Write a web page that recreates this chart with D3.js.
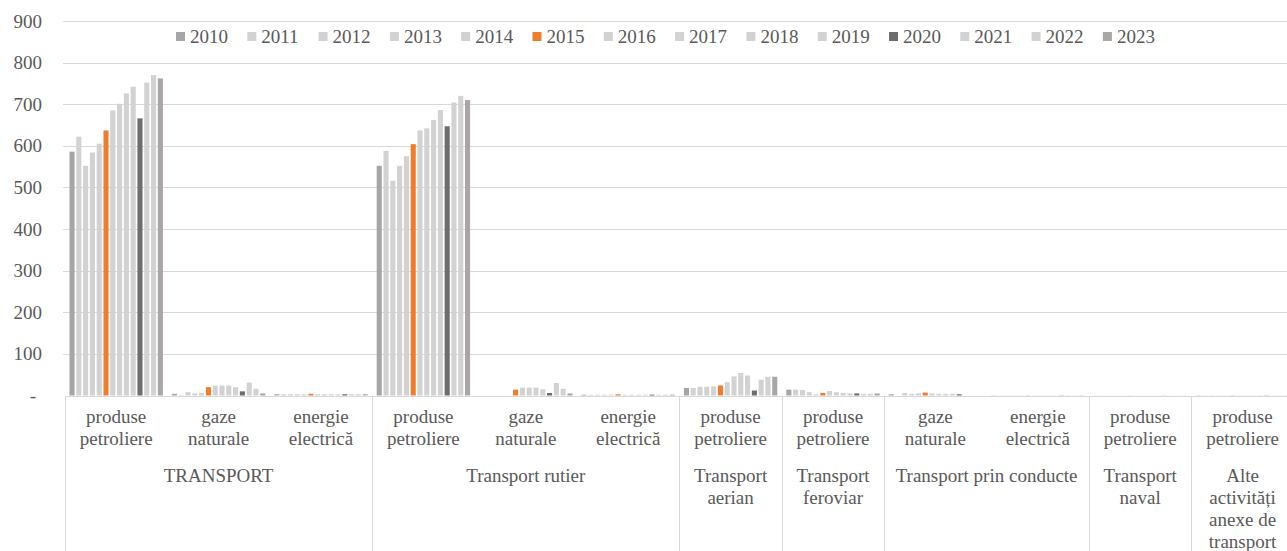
<!DOCTYPE html>
<html>
<head>
<meta charset="utf-8">
<script src="https://cdn.jsdelivr.net/npm/d3@7"></script>
<style>
  body { margin: 0; background: #fff; }
  svg text { fill: #595959; }
</style>
</head>
<body>
<svg id="chart" width="1287" height="551"></svg>
<script>
const years = ["2010", "2011", "2012", "2013", "2014", "2015", "2016", "2017", "2018", "2019", "2020", "2021", "2022", "2023"];

const subLabels = [
  ["produse", "petroliere"], ["gaze", "naturale"], ["energie", "electrică"],
  ["produse", "petroliere"], ["gaze", "naturale"], ["energie", "electrică"],
  ["produse", "petroliere"],
  ["produse", "petroliere"],
  ["gaze", "naturale"], ["energie", "electrică"],
  ["produse", "petroliere"],
  ["produse", "petroliere"]
];

const groupNames = [
  ["TRANSPORT"], ["Transport rutier"], ["Transport", "aerian"], ["Transport", "feroviar"],
  ["Transport prin conducte"], ["Transport", "naval"], ["Alte", "activități", "anexe de", "transport"]
];
const groupSizes = [3, 3, 1, 1, 2, 1, 1];

// one row per category, one value per year (2010..2023)
const transportPetrol = [586, 622, 552, 584, 605, 637, 685, 701, 726, 742, 666, 752, 770, 762];
const transportGaze = [4, 1, 8, 5, 6, 20, 24, 24, 24, 20, 10, 31, 16, 5];
const transportEnergie = [3, 3, 3, 3, 3, 4, 3, 3, 3, 3, 3, 3, 3, 3];
const rutierPetrol = [552, 588, 516, 552, 575, 604, 637, 642, 662, 686, 647, 704, 720, 710];
const rutierGaze = [0, 0, 0, 0, 0, 14, 19, 19, 19, 15, 6, 30, 16, 5];
const rutierEnergie = [2, 2, 2, 2, 2, 3, 2, 2, 2, 2, 2, 2, 2, 2];
const aerianPetrol = [18, 18, 21, 21, 22, 24, 32, 46, 54, 48, 12, 38, 45, 45];
const feroviarPetrol = [14, 14, 13, 8, 3, 6, 11, 8, 6, 5, 5, 4, 4, 5];
const conducteGaze = [3, 0, 6, 4, 5, 7, 5, 4, 4, 4, 3, 0, 0, 0];
const conducteEnergie = [0.5, 0.5, 0.5, 0.5, 0.5, 0.5, 0.5, 0.5, 0.5, 0.5, 0.5, 0.5, 0.5, 0.5];
const navalPetrol = [0.3, 0.3, 0.3, 0.3, 0.3, 0.3, 0.3, 0.3, 0.3, 0.3, 0.3, 0.3, 0.3, 0.3];
const altePetrol = [0.5, 0.5, 0.5, 0.5, 0.5, 0.5, 0.5, 0.5, 0.5, 0.5, 0.5, 0.5, 0.5, 0.5];

const values = [transportPetrol, transportGaze, transportEnergie, rutierPetrol, rutierGaze, rutierEnergie,
  aerianPetrol, feroviarPetrol, conducteGaze, conducteEnergie, navalPetrol, altePetrol];

const yTicks = [0, 100, 200, 300, 400, 500, 600, 700, 800, 900];

const colors = {
  "2010": "#a6a6a6", "2015": "#f07d2c", "2020": "#6e6c6c", "2023": "#aaa6a6"
};
const light = "#d2d2d2";
const colorOf = y => colors[y] || light;

const svg = d3.select("#chart");
const left = 65, catW = 102.4, fs = 19;
// serif look of the original; falls back to whatever serif face exists
const serif = "Tinos, 'Liberation Serif', 'Noto Serif', 'DejaVu Serif', FreeSerif, 'Times New Roman', Times, serif";

const x0 = d3.scaleBand()
  .domain(d3.range(values.length))
  .range([left, left + catW * values.length]);

const x1 = d3.scaleBand()
  .domain(years)
  .range([4.5, catW - 4.5])
  .paddingInner(0.25);

const y = d3.scaleLinear().domain([0, 900]).range([395.5, 21]);

// gridlines
svg.append("g")
  .selectAll("line")
  .data(yTicks.slice(1))
  .join("line")
  .attr("x1", left - 2).attr("x2", 1287)
  .attr("y1", d => Math.round(y(d)) + 0.5).attr("y2", d => Math.round(y(d)) + 0.5)
  .attr("stroke", "#d9d9d9");

// y labels
svg.append("g")
  .selectAll("text")
  .data(yTicks)
  .join("text")
  .attr("x", d => d === 0 ? 36 : 42)
  .attr("y", d => y(d) + 6.5)
  .attr("text-anchor", "end")
  .style("font-family", serif)
  .attr("font-size", fs)
  .text(d => d === 0 ? "-" : d);

// bars
svg.append("g")
  .selectAll("g")
  .data(values)
  .join("g")
  .attr("transform", (d, i) => `translate(${x0(i)},0)`)
  .selectAll("rect")
  .data(d => d.map((v, j) => ({ year: years[j], v })))
  .join("rect")
  .attr("x", d => x1(d.year))
  .attr("width", x1.bandwidth())
  .attr("y", d => y(d.v))
  .attr("height", d => y(0) - y(d.v))
  .attr("fill", d => colorOf(d.year));

// axis line and group separators
svg.append("line")
  .attr("x1", left).attr("x2", 1287)
  .attr("y1", 396.5).attr("y2", 396.5)
  .attr("stroke", "#d9d9d9");

let starts = [0];
groupSizes.forEach(s => starts.push(starts[starts.length - 1] + s));

svg.append("g")
  .selectAll("line")
  .data(starts)
  .join("line")
  .attr("x1", d => Math.round(left + d * catW) + 0.5)
  .attr("x2", d => Math.round(left + d * catW) + 0.5)
  .attr("y1", 396).attr("y2", 551)
  .attr("stroke", "#d9d9d9");

// sub category labels
svg.append("g")
  .selectAll("text")
  .data(subLabels)
  .join("text")
  .attr("text-anchor", "middle")
  .style("font-family", serif)
  .attr("font-size", fs)
  .attr("transform", (d, i) => `translate(${x0(i) + catW / 2},0)`)
  .selectAll("tspan")
  .data(d => d)
  .join("tspan")
  .attr("x", 0)
  .attr("y", (d, k) => 423 + k * 22)
  .text(d => d);

// group labels
svg.append("g")
  .selectAll("text")
  .data(groupNames)
  .join("text")
  .attr("text-anchor", "middle")
  .style("font-family", serif)
  .attr("font-size", fs)
  .attr("transform", (d, i) => `translate(${left + (starts[i] + groupSizes[i] / 2) * catW},0)`)
  .selectAll("tspan")
  .data(d => d)
  .join("tspan")
  .attr("x", 0)
  .attr("y", (d, k) => 482 + k * 22)
  .text(d => d);

// legend
const legend = svg.append("g")
  .selectAll("g")
  .data(years)
  .join("g")
  .attr("transform", (d, i) => `translate(${176 + i * 71.3},0)`);

legend.append("rect")
  .attr("x", 0).attr("y", 32)
  .attr("width", 9).attr("height", 9)
  .attr("fill", d => colorOf(d));

legend.append("text")
  .attr("x", 14).attr("y", 43)
  .style("font-family", serif)
  .attr("font-size", fs)
  .text(d => d);
</script>
</body>
</html>
